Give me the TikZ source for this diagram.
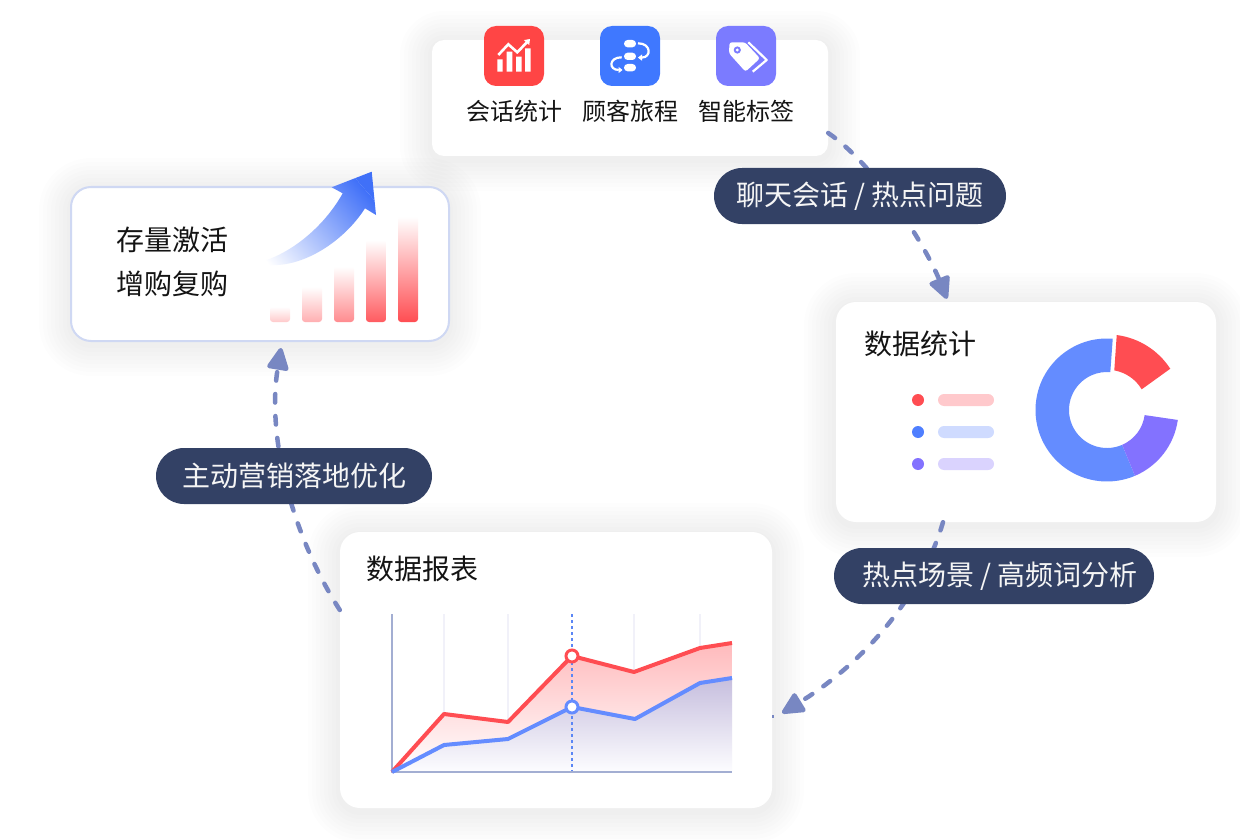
\documentclass[tikz,border=0pt]{standalone}
\usepackage{fontspec}
\setmainfont{Noto Sans CJK SC}
\usetikzlibrary{arrows.meta}
\definecolor{linkc}{HTML}{7887C2}
\definecolor{pillc}{HTML}{334165}
\definecolor{shadowc}{HTML}{4A4E58}
\definecolor{redc}{HTML}{FF4D52}
\definecolor{bluec}{HTML}{648CFF}
\definecolor{purplec}{HTML}{8372FF}
\definecolor{gridc}{HTML}{F1F1F9}
\definecolor{axisc}{HTML}{A3AED2}
\definecolor{iconred}{HTML}{FF4545}
\definecolor{iconblue}{HTML}{3F78FF}
\definecolor{iconpurple}{HTML}{7B7BFF}
\definecolor{dotblue}{HTML}{4F7FFF}
\definecolor{barred}{HTML}{FFC9CC}
\definecolor{barblue}{HTML}{CFDBFF}
\definecolor{barpurple}{HTML}{DAD3FE}
\definecolor{arrowblue}{HTML}{4070F8}
\definecolor{areared}{HTML}{FFBABC}
\definecolor{areatop}{HTML}{C6BEDE}
\definecolor{areamid}{HTML}{EBF0FF}
\definecolor{areabot}{HTML}{FDFDFF}
\definecolor{dashblue}{HTML}{5B86F5}
\definecolor{leftborder}{HTML}{CFD8F3}
\newcommand{\softshadow}[5]{%
  \foreach \d in {4,8,...,32}{%
    \pgfmathsetmacro\rr{#5+\d}%
    \fill[shadowc,fill opacity=.007,rounded corners=\rr pt]
      ({#1-\d},{#2-\d+3}) rectangle ({#3+\d},{#4+\d+3});
  }}
\tikzset{
  panel/.style={fill=white,inner sep=0pt,rounded corners=20pt,minimum width=#1},
  pill/.style={fill=pillc,text=white!96!black,inner sep=0pt,rounded corners=28pt,minimum height=56pt,font=\fontsize{28}{34}\selectfont},
  iconbox/.style={inner sep=0pt,minimum width=60pt,minimum height=60pt,rounded corners=12pt},
  lab/.style={inner sep=0pt,font=\fontsize{28}{34}\selectfont,text=black!92},
  smalllab/.style={inner sep=0pt,font=\fontsize{24}{30}\selectfont,text=black!92},
  link/.style={linkc,line width=4.5pt,line cap=round,dash pattern=on 8.5pt off 13.5pt,-{Triangle[length=25pt,width=23pt,round]}},
  grid line/.style={gridc,line width=2pt},
  legend dot/.style={circle,inner sep=0pt,minimum size=12pt},
  legend bar/.style={inner sep=0pt,minimum width=56pt,minimum height=12pt,rounded corners=6pt},
  marker/.style={circle,draw=#1,fill=white,line width=3pt,inner sep=0pt,minimum size=12pt},
}
\begin{document}
\begin{tikzpicture}[x=1pt,y=-1pt]
\useasboundingbox (0,0) rectangle (1240,840);
\fill[white] (0,0) rectangle (1240,840);
% shadows
\softshadow{432}{40}{828}{156}{12}
\softshadow{71}{187}{449}{341}{20}
\softshadow{836}{302}{1216}{522}{20}
\softshadow{340}{532}{772}{808}{20}
% panels
\node[panel=396pt,minimum height=116pt,rounded corners=12pt] (top) at (630,98) {};
\node[panel=378pt,minimum height=154pt,draw=leftborder,line width=2pt] (left) at (260,264) {};
\node[panel=380pt,minimum height=220pt] (stats) at (1026,412) {};
\node[panel=432pt,minimum height=276pt] (report) at (556,670) {};
% connectors
\draw[link] ([yshift=-35pt]top.east) .. controls +(47,32) and +(-22,-54) .. ([xshift=-79pt,yshift=3pt]stats.north);
\draw[link] ([xshift=-83pt]stats.south) .. controls +(-23,78) and +(78,-48) .. ([xshift=10pt,yshift=-43pt]report.east);
\draw[linkc,line width=3pt] ([yshift=-46pt]report.east) -- ([xshift=1.5pt,yshift=-46pt]report.east);
\draw[link] ([yshift=60pt]report.west) .. controls +(-45,-70) and +(-15,93) .. ([xshift=21pt,yshift=-6pt]left.south);
% top panel
\node[iconbox,fill=iconred] (i1) at (514,56) {};
\node[iconbox,fill=iconblue] (i2) at (630,56) {};
\node[iconbox,fill=iconpurple] (i3) at (746,56) {};
\fill[white] (497.3,59.3) rectangle (502.7,71.7) (506.7,51.7) rectangle (512.3,71.7) (516,56.7) rectangle (521.7,71.7) (525,48.3) rectangle (530.7,71.7);
\draw[white,line width=2.6pt,-{Triangle[length=5pt,width=7pt]}] (498.3,55) -- (508.3,44.3) -- (517.3,52.3) -- (530,39);
\fill[white,rounded corners=3.6pt] (624,40) rectangle (636,47.3) (624,52.7) rectangle (636,60) (624,64) rectangle (636,71.3);
\draw[white,line width=2.2pt,-{Triangle[length=4pt,width=6pt]}] (638,43.3) .. controls (651.5,43.3) and (651.5,57.6) .. (638,57.6);
\draw[white,line width=2.2pt,-{Triangle[length=4pt,width=6pt]}] (621.7,57.3) .. controls (608.5,57.3) and (608.5,70) .. (622.5,70);
\fill[white,rounded corners=2.5pt] (729.5,42.3) -- (745,42.3) -- (760,58.3) -- (745.5,71.7) -- (729,53.3) -- cycle;
\draw[white,line width=2.2pt,line join=round] (748.3,42.3) -- (766.7,60) -- (752.7,71.7);
\fill[iconpurple] (737.3,50) circle[radius=3.6pt];
\fill[white] (737.3,50) circle[radius=1.6pt];
\node[smalllab] (t1) at (514.5,111) {会话统计};
\node[smalllab] (t2) at (630,111) {顾客旅程};
\node[smalllab] (t3) at (746,111) {智能标签};
% left panel
\node[lab] (l1) at (172,240) {存量激活};
\node[lab] (l2) at (172,284) {增购复购};
\shade[rounded corners=3pt,top color=white,bottom color=redc!30!white] (270,306.7) rectangle (290,322);
\shade[rounded corners=3pt,top color=white,bottom color=redc!45!white] (302,286.7) rectangle (322,322);
\shade[rounded corners=3pt,top color=white,bottom color=redc!65!white] (334,266.7) rectangle (354,322);
\shade[rounded corners=3pt,top color=white,bottom color=redc!92!white] (366,240) rectangle (386,322);
\shade[rounded corners=3pt,top color=white,bottom color=redc] (398,216.7) rectangle (418,322);
\begin{scope}
\clip (371.7,171.7) -- (376,215) -- (365,208.3) .. controls (345,240) and (305,267) .. (270,265) -- (266.7,260) .. controls (295,250) and (325,225) .. (342.7,193.3) -- (331.7,187.3) -- cycle;
\begin{scope}[transform canvas={shift={(320,217)},rotate=-49}]
\shade[top color=arrowblue,bottom color=white] (-110pt,-70pt) rectangle (110pt,52pt);
\fill[arrowblue] (-110pt,52pt) rectangle (110pt,90pt);
\end{scope}
\end{scope}
% stats panel
\node[lab] (s1) at (920,344) {数据统计};
\node[legend dot,fill=redc] (d1) at (918,400) {};
\node[legend dot,fill=dotblue] (d2) at (918,432) {};
\node[legend dot,fill=purplec] (d3) at (918,464) {};
\node[legend bar,fill=barred] (b1) at (966,400) {};
\node[legend bar,fill=barblue] (b2) at (966,432) {};
\node[legend bar,fill=barpurple] (b3) at (966,464) {};
\begin{scope}[shift={(1107,410)},x=1pt,y=1pt]
\fill[bluec] (85.4:71.5) arc[start angle=85.4,end angle=293,radius=71.5pt] -- (293.5:38) arc[start angle=293.5,end angle=85,radius=38pt] -- cycle;
\fill[purplec] (-67:71.5) arc[start angle=-67,end angle=-8,radius=71.5pt] -- (-7.7:38) arc[start angle=-7.7,end angle=-66.5,radius=38pt] -- cycle;
\fill[redc] (82.6:75.6) arc[start angle=82.6,end angle=33,radius=75.4pt] -- (30.8:40.4) arc[start angle=30.8,end angle=80,radius=40pt] -- cycle;
\end{scope}
% report panel
\node[lab] (r1) at (422,569) {数据报表};
\draw[grid line] (444,614) -- (444,772);
\draw[grid line] (508,614) -- (508,772);
\draw[grid line] (634,614) -- (634,772);
\draw[grid line] (700,614) -- (700,772);
\shade[top color=areared,bottom color=white]
  (392,772) -- (444,714) -- (508,722) -- (572,656) -- (634,672) -- (700,648) -- (732,643) -- (732,772) -- cycle;
\shade[top color=areatop,middle color=areamid,bottom color=areabot]
  (392,772) -- (444,745) -- (508,739) -- (572,707) -- (635,719) -- (700,683) -- (732,678) -- (732,772) -- cycle;
\draw[axisc,line width=2pt] (392,614) -- (392,772) -- (732,772);
\draw[dashblue,line width=1.8pt,dash pattern=on 3pt off 3pt] (572,614) -- (572,771);
\draw[redc,line width=4pt,line join=round] (392,772) -- (444,714) -- (508,722) -- (572,656) -- (634,672) -- (700,648) -- (732,643);
\draw[bluec,line width=4pt,line join=round] (392,772) -- (444,745) -- (508,739) -- (572,707) -- (635,719) -- (700,683) -- (732,678);
\node[marker=redc] (m1) at (572,656) {};
\node[marker=bluec] (m2) at (572,707) {};
% pills
\node[pill,minimum width=292pt] (p1) at (860,196) {聊天会话 / 热点问题};
\node[pill,minimum width=320pt] (p2) at (994,576) {\hspace*{12pt}热点场景 / 高频词分析};
\node[pill,minimum width=276pt] (p3) at (294,476) {主动营销落地优化};
\end{tikzpicture}
\end{document}
